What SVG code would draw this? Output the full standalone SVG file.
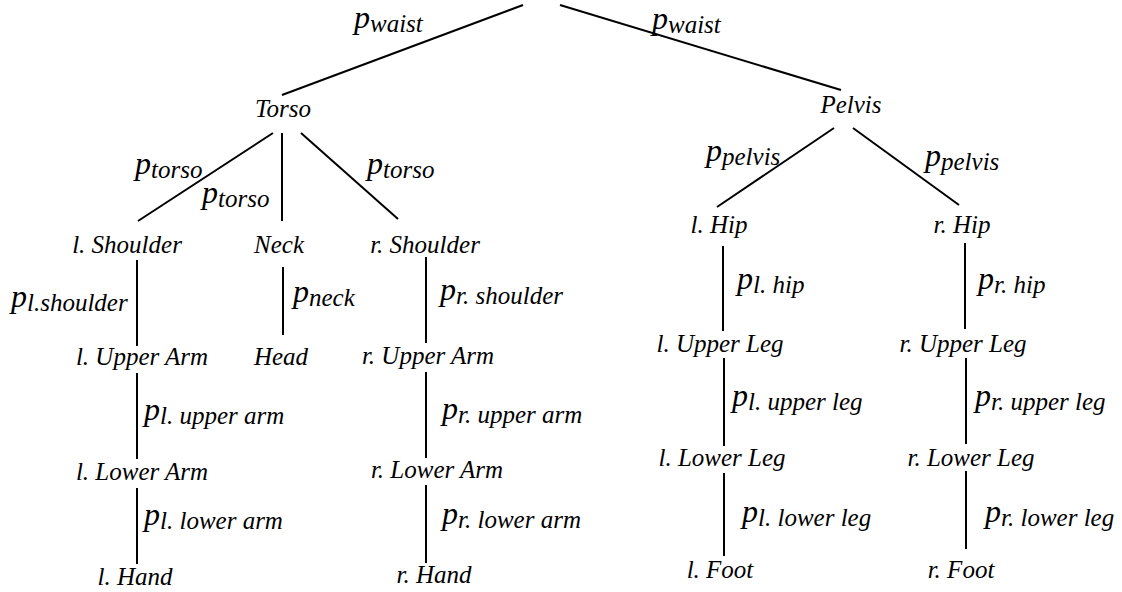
<svg xmlns="http://www.w3.org/2000/svg" width="1122" height="592" viewBox="0 0 1122 592">
<style>
text{font-family:"Liberation Serif","Times New Roman",serif;font-style:italic;fill:#000}
.n{font-size:25px;text-anchor:middle}
.e{font-size:32px}
.s{font-size:25px}
line{stroke:#000;stroke-width:2;stroke-linecap:butt}
</style>
<rect width="1122" height="592" fill="#fff"/>
<g id="connectors">
<line x1="523" y1="5" x2="282" y2="95"/>
<line x1="560" y1="5" x2="841" y2="90"/>
<line x1="273" y1="133" x2="138" y2="221"/>
<line x1="282" y1="133" x2="282" y2="221"/>
<line x1="301" y1="133" x2="398" y2="219"/>
<line x1="137" y1="260" x2="137" y2="346"/>
<line x1="283" y1="267" x2="283" y2="335"/>
<line x1="426" y1="257" x2="426" y2="343"/>
<line x1="137" y1="373" x2="137" y2="459"/>
<line x1="137" y1="488" x2="137" y2="564"/>
<line x1="426" y1="372" x2="426" y2="458"/>
<line x1="426" y1="485" x2="426" y2="563"/>
<line x1="834" y1="128" x2="717" y2="207"/>
<line x1="853" y1="128" x2="959" y2="205"/>
<line x1="723" y1="246" x2="723" y2="331"/>
<line x1="965" y1="243" x2="965" y2="329"/>
<line x1="724" y1="358" x2="724" y2="446"/>
<line x1="966" y1="358" x2="966" y2="444"/>
<line x1="724" y1="473" x2="724" y2="556"/>
<line x1="966" y1="471" x2="966" y2="549"/>
</g>
<g id="edge-labels">
<text class="e" x="354" y="28">p<tspan class="s" dy="4">waist</tspan></text>
<text class="e" x="652" y="29">p<tspan class="s" dy="4">waist</tspan></text>
<text class="e" x="135" y="174">p<tspan class="s" dy="4">torso</tspan></text>
<text class="e" x="202" y="203">p<tspan class="s" dy="4">torso</tspan></text>
<text class="e" x="367" y="174">p<tspan class="s" dy="4">torso</tspan></text>
<text class="e" x="706" y="161">p<tspan class="s" dy="4">pelvis</tspan></text>
<text class="e" x="925" y="166">p<tspan class="s" dy="4">pelvis</tspan></text>
<text class="e" x="11" y="307">p<tspan class="s" dy="4">l.shoulder</tspan></text>
<text class="e" x="293" y="302">p<tspan class="s" dy="4">neck</tspan></text>
<text class="e" x="440" y="300">p<tspan class="s" dy="4">r. shoulder</tspan></text>
<text class="e" x="144" y="420">p<tspan class="s" dy="4">l. upper arm</tspan></text>
<text class="e" x="442" y="419">p<tspan class="s" dy="4">r. upper arm</tspan></text>
<text class="e" x="144" y="525">p<tspan class="s" dy="4">l. lower arm</tspan></text>
<text class="e" x="442" y="524">p<tspan class="s" dy="4">r. lower arm</tspan></text>
<text class="e" x="737" y="289">p<tspan class="s" dy="4">l. hip</tspan></text>
<text class="e" x="978" y="289">p<tspan class="s" dy="4">r. hip</tspan></text>
<text class="e" x="732" y="406">p<tspan class="s" dy="4">l. upper leg</tspan></text>
<text class="e" x="975" y="406">p<tspan class="s" dy="4">r. upper leg</tspan></text>
<text class="e" x="742" y="522">p<tspan class="s" dy="4">l. lower leg</tspan></text>
<text class="e" x="985" y="522">p<tspan class="s" dy="4">r. lower leg</tspan></text>
</g>
<g id="torso"><text class="n" x="283" y="117">Torso</text></g>
<g id="pelvis"><text class="n" x="851" y="113">Pelvis</text></g>
<g id="l-shoulder"><text class="n" x="127" y="253">l. Shoulder</text></g>
<g id="neck"><text class="n" x="279" y="253">Neck</text></g>
<g id="r-shoulder"><text class="n" x="425" y="253">r. Shoulder</text></g>
<g id="l-upper-arm"><text class="n" x="142" y="365">l. Upper Arm</text></g>
<g id="head"><text class="n" x="281" y="365">Head</text></g>
<g id="r-upper-arm"><text class="n" x="428" y="364">r. Upper Arm</text></g>
<g id="l-lower-arm"><text class="n" x="142" y="480">l. Lower Arm</text></g>
<g id="r-lower-arm"><text class="n" x="437" y="478">r. Lower Arm</text></g>
<g id="l-hand"><text class="n" x="135" y="585">l. Hand</text></g>
<g id="r-hand"><text class="n" x="434" y="583">r. Hand</text></g>
<g id="l-hip"><text class="n" x="719" y="233">l. Hip</text></g>
<g id="r-hip"><text class="n" x="962" y="233">r. Hip</text></g>
<g id="l-upper-leg"><text class="n" x="720" y="352">l. Upper Leg</text></g>
<g id="r-upper-leg"><text class="n" x="963" y="352">r. Upper Leg</text></g>
<g id="l-lower-leg"><text class="n" x="722" y="466">l. Lower Leg</text></g>
<g id="r-lower-leg"><text class="n" x="971" y="466">r. Lower Leg</text></g>
<g id="l-foot"><text class="n" x="720" y="578">l. Foot</text></g>
<g id="r-foot"><text class="n" x="961" y="578">r. Foot</text></g>
</svg>
